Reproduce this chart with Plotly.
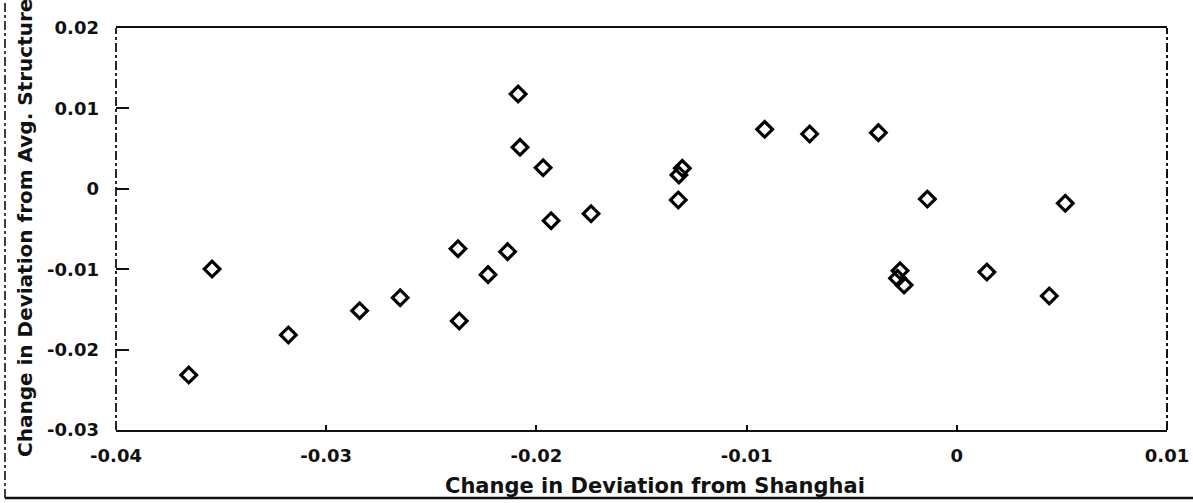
import plotly.graph_objects as go

# Data
x_vals = [-0.03654, -0.03543, -0.03180, -0.02841, -0.02648, -0.02373, -0.02367,
          -0.02230, -0.02137, -0.02087, -0.02078, -0.01968, -0.01930, -0.01740,
          -0.01306, -0.01322, -0.01325, -0.00914, -0.00700, -0.00373, -0.00140,
          0.00516, -0.00270, -0.00282, -0.00251, 0.00143, 0.00440]
y_vals = [-0.02316, -0.00998, -0.01818, -0.01516, -0.01355, -0.00745, -0.01644,
          -0.01068, -0.00782, 0.01179, 0.00516, 0.00262, -0.00397, -0.00310,
          0.00255, 0.00172, -0.00139, 0.00740, 0.00682, 0.00698, -0.00127,
          -0.00180, -0.01019, -0.01113, -0.01197, -0.01035, -0.01333]

x_tickvals = [-0.04, -0.03, -0.02, -0.01, 0, 0.01]
x_ticktext = ["-0.04", "-0.03", "-0.02", "-0.01", "0", "0.01"]
y_tickvals = [-0.03, -0.02, -0.01, 0, 0.01, 0.02]
y_ticktext = ["-0.03", "-0.02", "-0.01", "0", "0.01", "0.02"]

x_title = "Change in Deviation from Shanghai"
y_title = "Change in Deviation from Avg. Structure"

W, H = 1193, 503
L, R, T, B = 116, 26, 28, 73
PW, PH = W - L - R, H - T - B


def px_x(p):
    return (p - L) / PW


def px_y(p):
    return 1 - (p - T) / PH


FAM = "DejaVu Sans, Liberation Sans, Arial, sans-serif"
tick_font = dict(family=FAM, size=18, color="#111", weight="bold")
title_font = dict(family=FAM, size=21, color="#111", weight="bold")
ytitle_font = dict(family=FAM, size=20, color="#111", weight="bold")

fig = go.Figure()
fig.add_trace(go.Scatter(
    x=x_vals, y=y_vals, mode="markers",
    marker=dict(symbol="diamond-open", size=12, color="black",
                line=dict(color="black", width=3.2)),
    showlegend=False, hoverinfo="x+y",
))

fig.update_layout(
    width=W, height=H, autosize=False,
    margin=dict(l=L, r=R, t=T, b=B, autoexpand=False),
    paper_bgcolor="white", plot_bgcolor="white",
    font=tick_font,
    xaxis=dict(range=[-0.04, 0.01], tickvals=x_tickvals, ticktext=x_ticktext,
               automargin=False,
               showgrid=False, zeroline=False, showline=True, mirror=True,
               linecolor="#111", linewidth=2.4, ticks="inside", ticklen=5,
               tickwidth=1.5, tickcolor="#111", ticklabelstandoff=8,
               tickfont=tick_font),
    yaxis=dict(range=[-0.03, 0.02], tickvals=y_tickvals, ticktext=y_ticktext,
               automargin=False,
               showgrid=False, zeroline=False, showline=False,
               ticks="inside", ticklen=13, tickwidth=2, tickcolor="#111",
               ticklabelstandoff=16, tickfont=tick_font),
    shapes=[
        # left and right frame lines (dash-dot as in scan)
        dict(type="line", xref="paper", yref="paper", x0=0, x1=0, y0=0, y1=1,
             line=dict(color="#111", width=1.8, dash="dashdot")),
        dict(type="line", xref="paper", yref="paper", x0=1, x1=1, y0=0, y1=1,
             line=dict(color="#111", width=2, dash="dashdot")),
        # outer page border lines
        dict(type="line", xref="paper", yref="paper",
             x0=px_x(5), x1=px_x(W), y0=px_y(498), y1=px_y(498),
             line=dict(color="#111", width=2.4)),
        dict(type="line", xref="paper", yref="paper",
             x0=px_x(5), x1=px_x(5), y0=px_y(498), y1=px_y(0),
             line=dict(color="#111", width=1.6, dash="dashdot")),
    ],
    annotations=[
        dict(text=x_title, xref="paper", yref="paper",
             x=px_x(655), y=px_y(486),
             showarrow=False, xanchor="center", yanchor="middle",
             font=title_font),
        dict(text=y_title, xref="paper", yref="paper", textangle=-90,
             x=px_x(25), y=px_y(228),
             showarrow=False, xanchor="center", yanchor="middle",
             font=ytitle_font),
    ],
)

fig.write_html("out.html",
               config={"displayModeBar": False, "responsive": False},
               post_script="document.body.style.margin='0';document.body.style.overflow='hidden';")
